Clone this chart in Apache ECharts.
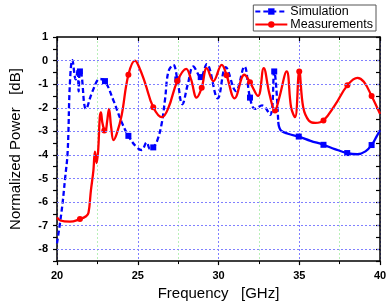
<!DOCTYPE html>
<html>
<head>
<meta charset="utf-8">
<script src="https://cdn.jsdelivr.net/npm/echarts@6/dist/echarts.min.js"></script>
<style>
  html, body { margin: 0; padding: 0; background: #fff; }
  #chart { width: 391px; height: 306px; }
</style>
</head>
<body>
<div id="chart"></div>
<script>
// simulation: dashed part (20 .. 33.7 GHz)
const simDashFreq = [20.0, 20.3, 20.5, 20.66, 20.8, 20.95, 21.16, 21.28, 21.34, 21.42, 21.5, 21.8, 22.2, 22.66, 22.97,
  23.5, 24.0, 24.42, 24.9, 25.24, 25.55, 25.76, 25.96, 26.2, 26.48, 26.69, 26.9, 27.2, 27.45, 27.76, 28.1, 28.44,
  28.9, 29.27, 29.95, 30.45, 31.08, 31.6, 31.95, 32.26, 32.7, 33.2, 33.45, 33.7];
const simDashValue = [-7.75, -6.3, -5.0, -3.86, -0.94, 0.02, -0.8, -0.4, -1.3, -0.46, -0.5, -2.05, -1.3, -0.78, -0.87,
  -1.7, -2.6, -3.19, -3.65, -3.79, -3.47, -3.75, -3.68, -3.4, -2.68, -1.64, -0.46, -0.18, -0.8, -1.85, -1.0, -0.25,
  -0.7, -0.15, -1.6, -0.28, -1.29, -0.25, -1.57, -2.05, -1.9, -2.3, -0.46, -2.6];
// simulation: solid part (33.7 .. 40 GHz)
const simSolidFreq = [33.7, 33.85, 34.3, 34.97, 35.7, 36.5, 37.2, 37.97, 38.6, 39.1, 39.48, 39.8, 40.0];
const simSolidValue = [-2.6, -2.95, -3.1, -3.22, -3.4, -3.57, -3.75, -3.92, -3.97, -3.85, -3.58, -3.2, -2.96];
const simMarkers = [21.42, 22.97, 24.42, 25.96, 27.45, 28.9, 31.95, 33.45, 34.97, 36.5, 37.97, 39.48];

const measFreq = [20.0, 20.2, 20.8, 21.42, 21.8, 21.95, 22.1, 22.25, 22.35, 22.45, 22.55, 22.65, 22.72, 22.8, 22.93,
  23.0, 23.1, 23.22, 23.35, 23.5, 23.7, 24.0, 24.42, 24.83, 25.1, 25.45, 25.96, 26.5, 26.9, 27.45, 28.0, 28.3, 28.65,
  28.96, 29.27, 29.68, 30.2, 30.5, 31.0, 31.6, 31.95, 32.45, 32.8, 33.15, 33.5, 33.75, 34.22, 34.5, 34.74, 35.0,
  35.25, 35.6, 36.0, 36.5, 37.2, 37.98, 38.6, 39.0, 39.48, 40.0];
const measValue = [-6.65, -6.78, -6.83, -6.72, -6.6, -6.45, -5.5, -4.69, -3.86, -4.35, -3.8, -2.4, -2.2, -2.6, -2.96,
  -3.0, -2.6, -2.05, -2.8, -3.37, -3.1, -2.33, -0.6, 0.0, -0.3, -0.94, -1.98, -2.4, -2.0, -0.87, -0.35, -0.8, -1.57,
  -1.15, -0.32, -0.87, -0.18, -0.62, -1.6, -0.6, -0.92, -1.5, -0.32, -1.4, -2.12, -1.6, -0.46, -2.0, -2.4, -0.46,
  -2.0, -2.55, -2.64, -2.54, -1.9, -1.05, -0.73, -0.9, -1.5, -2.26];
const measMarkers = [21.42, 22.93, 24.42, 25.96, 27.45, 28.96, 30.5, 31.95, 33.5, 35.0, 36.5, 37.98, 39.48];

const yTickLabels = [1, 0, -1, -2, -3, -4, -5, -6, -7, -8];
const yGridValues = [0, -1, -2, -3, -4, -5, -6, -7, -8];

const BLUE = '#0000ff';
const RED = '#ff0000';
const FONT = 'Liberation Sans';

function toData(freq, vals, markers, sym) {
  return freq.map((f, i) => ({
    value: [f, vals[i]],
    symbol: markers.includes(f) ? sym : 'none'
  }));
}

const chart = echarts.init(document.getElementById('chart'));

const tickLabel = { fontFamily: FONT, fontWeight: 'bold', fontSize: 11, color: '#000' };
const axisLineStyle = { color: '#000', width: 1.5 };

chart.setOption({
  backgroundColor: '#fff',
  animation: false,
  grid: { left: 57, right: 11, top: 37, bottom: 43 },
  legend: {
    orient: 'vertical',
    right: 15,
    top: 5,
    itemWidth: 32,
    itemHeight: 8,
    itemGap: 0,
    padding: [0, 3, 0, 1],
    borderColor: '#555',
    borderWidth: 1,
    textStyle: { fontFamily: FONT, fontSize: 12.5, color: '#000', padding: [0, 0, 0, -2] },
    data: ['Simulation', 'Measurements']
  },
  xAxis: [
    {
      type: 'value', min: 20, max: 40, interval: 5,
      name: 'Frequency   [GHz]', nameLocation: 'middle', nameGap: 23,
      nameTextStyle: { fontFamily: FONT, fontSize: 15, color: '#000' },
      axisLine: { onZero: false, lineStyle: axisLineStyle },
      axisTick: { inside: false, length: 4, lineStyle: { color: '#000', width: 1.2 } },
      minorTick: { show: true, splitNumber: 2, length: 3, lineStyle: { color: '#000', width: 1 } },
      axisLabel: Object.assign({ margin: 9 }, tickLabel),
      splitLine: { show: true, lineStyle: { color: '#8080ff', type: [2, 2], width: 1 } },
      minorSplitLine: { show: true, lineStyle: { color: '#b8f0b8', type: [2, 2], width: 1 } }
    },
    {
      type: 'value', min: 20, max: 40, interval: 5, position: 'top',
      axisLine: { onZero: false, lineStyle: axisLineStyle },
      axisTick: { inside: true, length: 4, lineStyle: { color: '#000', width: 1.2 } },
      minorTick: { show: true, splitNumber: 2, length: 3, lineStyle: { color: '#000', width: 1 } },
      axisLabel: { show: false },
      splitLine: { show: false }
    }
  ],
  yAxis: [
    {
      type: 'value', min: -8.5, max: 1, interval: 0.5,
      name: 'Normalized Power   [dB]', nameLocation: 'middle', nameGap: 34,
      nameTextStyle: { fontFamily: FONT, fontSize: 15, color: '#000' },
      axisLine: { show: true, onZero: false, lineStyle: axisLineStyle },
      axisTick: { show: true, inside: false, length: 4, lineStyle: { color: '#000', width: 1.2 } },
      axisLabel: Object.assign({
        margin: 9,
        formatter: v => (yTickLabels.includes(v) ? String(v) : '')
      }, tickLabel),
      splitLine: { show: false }
    },
    {
      type: 'value', min: -8.5, max: 1, interval: 0.5, position: 'right',
      axisLine: { show: true, onZero: false, lineStyle: axisLineStyle },
      axisTick: { show: true, inside: true, length: 4, lineStyle: { color: '#000', width: 1.2 } },
      axisLabel: { show: false },
      splitLine: { show: false }
    }
  ],
  series: [
    {
      name: 'Simulation',
      type: 'line',
      smooth: 0.4,
      showAllSymbol: true,
      symbol: 'rect',
      symbolSize: 6,
      data: toData(simDashFreq, simDashValue, simMarkers, 'rect'),
      itemStyle: { color: BLUE },
      lineStyle: { color: BLUE, width: 2.3, type: [5, 3] },
      markLine: {
        silent: true,
        symbol: 'none',
        label: { show: false },
        lineStyle: { color: '#8080ff', type: [2, 2], width: 1 },
        data: yGridValues.map(v => ({ yAxis: v }))
      },
      z: 3
    },
    {
      name: 'Simulation',
      type: 'line',
      smooth: 0.4,
      showAllSymbol: true,
      symbol: 'rect',
      symbolSize: 6,
      data: toData(simSolidFreq, simSolidValue, simMarkers, 'rect'),
      itemStyle: { color: BLUE },
      lineStyle: { color: BLUE, width: 2.3, type: 'solid' },
      z: 3
    },
    {
      name: 'Measurements',
      type: 'line',
      smooth: 0.4,
      showAllSymbol: true,
      symbol: 'circle',
      symbolSize: 6,
      data: toData(measFreq, measValue, measMarkers, 'circle'),
      itemStyle: { color: RED },
      lineStyle: { color: RED, width: 2.3 },
      z: 4
    }
  ]
});
</script>
</body>
</html>
